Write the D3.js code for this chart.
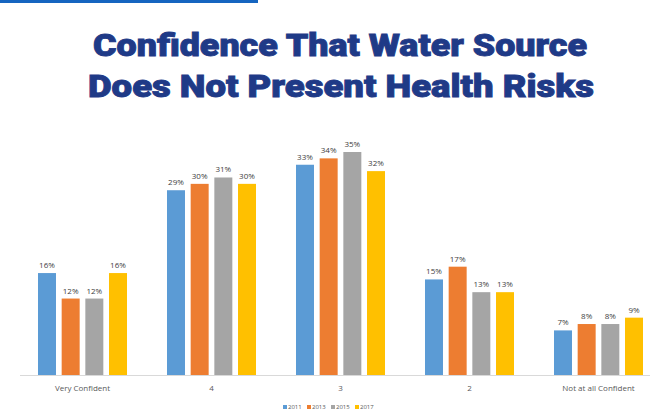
<!DOCTYPE html>
<html>
<head>
<meta charset="utf-8">
<script src="https://cdn.jsdelivr.net/npm/d3@7"></script>
<style>
  html, body { margin: 0; padding: 0; background: #fff; }
  svg { display: block; }
</style>
</head>
<body>
<svg id="chart" width="654" height="419"></svg>
<script>
// data
const categories = ['Very Confident', '4', '3', '2', 'Not at all Confident'];
const years = ['2011', '2013', '2015', '2017'];
const v2011 = [16, 29, 33, 15, 7];
const v2013 = [12, 30, 34, 17, 8];
const v2015 = [12, 31, 35, 13, 8];
const v2017 = [16, 30, 32, 13, 9];
const colors = ['#5b9bd5', '#ed7d31', '#a5a5a5', '#ffc000'];

const series = [v2011, v2013, v2015, v2017];
const rows = categories.map((c, i) => ({cat: c, vals: years.map((y, j) => ({year: y, v: series[j][i]}))}));

const svg = d3.select('#chart');

// top accent strip
svg.append('rect').attr('x', 0).attr('y', 0).attr('width', 258).attr('height', 3).attr('fill', '#1565c0');

// title
const title = svg.append('text')
  .attr('text-anchor', 'middle')
  .attr('fill', '#1f3a87')
  .attr('stroke', '#1f3a87').attr('stroke-width', 0.9)
  .style('font-family', 'Roboto, "Liberation Sans", sans-serif')
  .style('font-weight', 900)
  .style('font-size', '31px');
title.append('tspan').attr('x', 340).attr('y', 56)
  .attr('textLength', 494).attr('lengthAdjust', 'spacingAndGlyphs')
  .text('Confidence That Water Source');
title.append('tspan').attr('x', 341).attr('y', 97)
  .attr('textLength', 506).attr('lengthAdjust', 'spacingAndGlyphs')
  .text('Does Not Present Health Risks');

const baseY = 375;
const x0 = d3.scaleBand().domain(categories).range([18, 663]).paddingInner(0.31).paddingOuter(0.155);
const x1 = d3.scaleBand().domain(years).range([0, x0.bandwidth()]).paddingInner(0.24);
const y = d3.scaleLinear().domain([0, 35]).range([baseY, 152]);

// baseline
svg.append('line').attr('x1', 20).attr('x2', 650).attr('y1', baseY + 0.5).attr('y2', baseY + 0.5)
  .attr('stroke', '#d9d9d9');

const g = svg.selectAll('g.grp').data(rows).join('g')
  .attr('class', 'grp')
  .attr('transform', d => `translate(${x0(d.cat)},0)`);

g.selectAll('rect').data(d => d.vals).join('rect')
  .attr('x', d => x1(d.year))
  .attr('y', d => y(d.v))
  .attr('width', x1.bandwidth())
  .attr('height', d => baseY - y(d.v))
  .attr('fill', (d, i) => colors[i]);

g.selectAll('text.lbl').data(d => d.vals).join('text')
  .attr('class', 'lbl')
  .attr('x', d => x1(d.year) + x1.bandwidth() / 2)
  .attr('y', d => y(d.v) - 5)
  .attr('text-anchor', 'middle')
  .attr('fill', '#404040')
  .style('font-family', '"Open Sans", sans-serif')
  .style('font-size', '8px')
  .text(d => d.v + '%');

// category axis labels
const xAxis = svg.append('g').attr('transform', `translate(0,${baseY})`)
  .call(d3.axisBottom(x0).tickSize(0).tickPadding(10));
xAxis.select('.domain').remove();
xAxis.selectAll('text')
  .attr('fill', '#595959')
  .style('font-family', '"Open Sans", sans-serif')
  .style('font-size', '8px');

// legend
const leg = svg.append('g').attr('transform', 'translate(283,409)');
const items = leg.selectAll('g').data(years).join('g')
  .attr('transform', (d, i) => `translate(${i * 24},0)`);
items.append('rect').attr('x', 0).attr('y', -4).attr('width', 4).attr('height', 4)
  .attr('fill', (d, i) => colors[i]);
items.append('text').attr('x', 5).attr('y', 0)
  .attr('fill', '#595959')
  .style('font-family', '"Open Sans", sans-serif')
  .style('font-size', '6px')
  .text(d => d);
</script>
</body>
</html>
